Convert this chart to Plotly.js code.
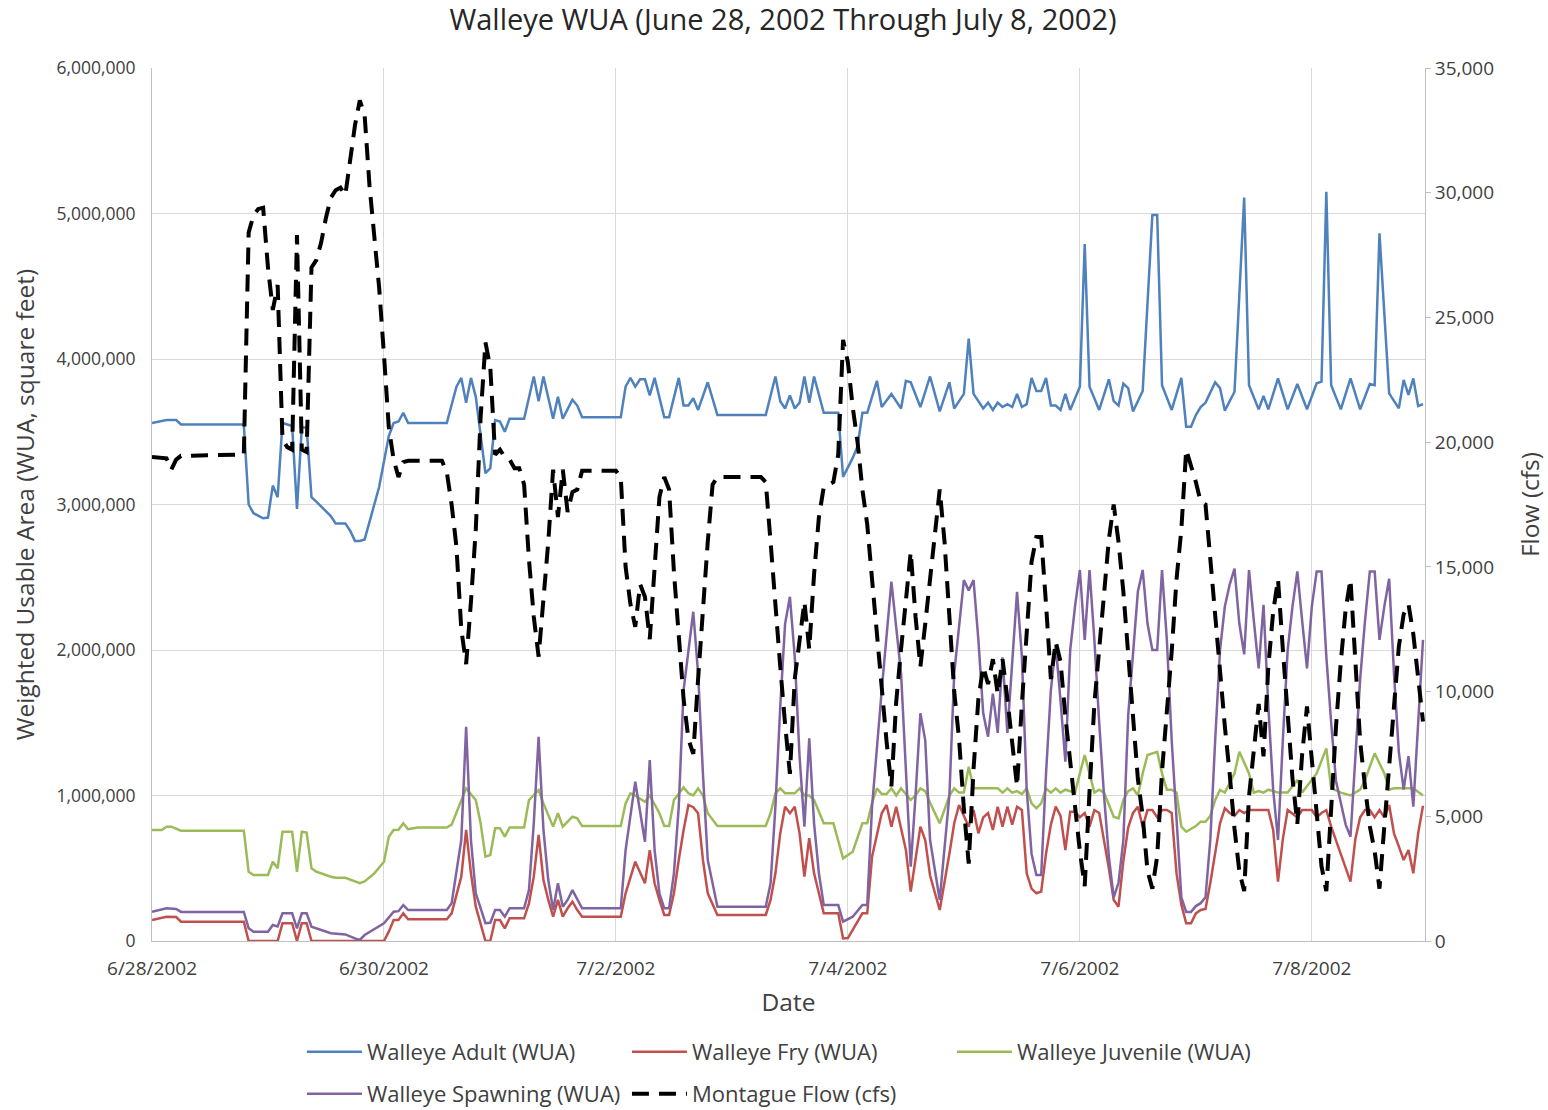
<!DOCTYPE html>
<html>
<head>
<meta charset="utf-8">
<script src="https://cdn.plot.ly/plotly-3.0.1.min.js"></script>
<style>
  html, body { margin: 0; padding: 0; background: #fff; }
  #chart { width: 1548px; height: 1110px; }
</style>
</head>
<body>
<div id="chart"></div>
<script>
// Hourly record, 6/28/2002 00:00 through 7/8/2002 23:00.
// Each series lists its vertices as hours from the start plus the value at that hour.

const adultHours = [0,3,5,6,19,20,21,23,24,25,26,27,29,30,31,32,33,34,37,38,40,41,42,43,44,47,49,50,51,52,53,61,63,64,65,66,67,69,70,71,72,73,74,77,79,80,81,83,84,85,87,88,89,97,98,99,100,101,102,103,104,106,107,109,110,111,112,113,115,117,127,129,130,131,132,133,134,135,136,137,139,142,143,145,146,147,148,150,151,153,155,156,157,159,161,163,165,166,168,169,170,172,173,174,175,176,177,178,179,180,181,182,183,184,185,186,187,188,189,190,192,193,194,196,198,199,200,201,202,203,205,207,208,209,211,213,214,215,216,217,218,220,221,222,224,226,227,229,230,231,233,235,237,239,241,242,243,244,246,248,250,252,253,254,256,258,259,260,261,262,263];
const adultWUA = [3560000,3580000,3580000,3550000,3550000,3000000,2940000,2905000,2910000,3130000,3050000,3560000,3540000,2970000,3530000,3530000,3050000,3020000,2920000,2870000,2870000,2820000,2750000,2750000,2760000,3120000,3470000,3560000,3570000,3630000,3560000,3560000,3810000,3870000,3700000,3870000,3740000,3215000,3250000,3580000,3570000,3500000,3590000,3590000,3880000,3710000,3880000,3590000,3740000,3590000,3720000,3680000,3600000,3600000,3810000,3870000,3810000,3860000,3860000,3750000,3870000,3600000,3600000,3870000,3680000,3680000,3730000,3650000,3840000,3615000,3615000,3880000,3710000,3660000,3750000,3660000,3700000,3880000,3700000,3880000,3630000,3630000,3190000,3320000,3400000,3630000,3630000,3850000,3670000,3760000,3660000,3850000,3840000,3670000,3880000,3640000,3840000,3660000,3760000,4140000,3760000,3660000,3700000,3650000,3700000,3670000,3690000,3670000,3760000,3670000,3690000,3870000,3780000,3780000,3870000,3680000,3680000,3650000,3760000,3650000,3810000,4790000,3810000,3650000,3860000,3710000,3680000,3830000,3800000,3640000,3780000,4990000,4990000,3820000,3650000,3870000,3535000,3535000,3615000,3670000,3700000,3840000,3800000,3645000,3775000,5110000,3820000,3654000,3746000,3654000,3867000,3654000,3828000,3654000,3833000,3844000,5150000,3820000,3654000,3867000,3654000,3828000,3820000,4864000,3764000,3661000,3856000,3753000,3867000,3677000,3690000];

const fryHours = [0,3,5,6,19,20,26,27,29,30,31,32,33,48,49,50,51,52,53,61,62,64,65,66,67,69,70,71,72,73,74,77,78,79,80,81,82,83,84,85,86,87,88,89,97,98,100,102,103,104,105,106,107,108,109,110,111,112,113,114,115,117,127,128,129,130,131,132,133,134,135,136,137,138,139,142,143,144,145,147,148,149,151,152,153,154,156,157,159,160,161,163,165,166,167,168,169,170,171,172,173,174,175,176,177,178,179,180,181,182,183,184,185,186,187,188,189,190,191,192,193,194,195,196,197,198,199,200,201,202,203,204,205,206,207,208,209,210,211,212,213,214,215,216,217,218,219,220,221,222,223,224,225,226,227,231,232,233,234,235,237,238,240,241,242,243,244,248,249,250,251,252,253,254,255,256,257,258,259,260,261,262,263];
const fryWUA = [144000,167000,165000,133000,133000,0,0,122000,122000,0,122000,122000,0,0,64000,144000,144000,190000,149000,149000,190000,442000,763000,465000,236000,0,0,144000,144000,87000,156000,156000,259000,442000,729000,419000,282000,167000,282000,167000,225000,270000,213000,167000,167000,328000,545000,397000,625000,397000,282000,179000,179000,328000,557000,763000,935000,920000,878000,557000,328000,179000,179000,282000,465000,740000,923000,878000,923000,740000,442000,706000,465000,328000,190000,190000,18000,20000,76000,190000,190000,580000,878000,935000,786000,923000,625000,339000,786000,694000,450000,213000,600000,809000,935000,860000,786000,900000,740000,850000,880000,763000,923000,786000,923000,800000,923000,900000,465000,360000,328000,340000,600000,800000,923000,860000,625000,889000,889000,850000,880000,786000,900000,880000,700000,500000,282000,236000,550000,780000,880000,923000,786000,900000,900000,850000,900000,900000,880000,465000,250000,122000,122000,190000,213000,220000,400000,620000,809000,912000,880000,860000,900000,880000,900000,900000,763000,408000,700000,900000,850000,900000,900000,850000,880000,900000,786000,408000,700000,850000,900000,900000,850000,900000,850000,935000,740000,650000,557000,625000,465000,740000,930000];

const juvenileHours = [0,2,3,4,6,19,20,21,24,25,26,27,29,30,31,32,33,34,37,38,40,42,43,44,46,48,49,50,51,52,53,55,61,62,64,65,67,68,69,70,71,72,73,74,77,78,80,81,83,84,85,87,88,89,97,98,99,100,102,103,105,106,107,108,110,111,112,113,114,115,117,127,128,129,130,131,133,134,135,136,137,139,141,142,143,145,147,148,149,150,151,152,153,154,155,157,158,159,160,161,163,165,166,167,168,169,170,175,176,177,178,179,180,181,182,183,184,185,186,187,188,189,190,191,192,193,194,195,196,197,199,200,201,202,203,204,205,206,208,209,210,211,212,213,214,216,217,218,219,220,221,222,224,225,227,228,229,230,231,233,235,237,238,240,241,243,244,246,248,250,251,253,255,256,257,258,260,261,263];
const juvenileWUA = [763000,763000,786000,786000,758000,758000,476000,454000,454000,545000,500000,751000,751000,476000,751000,745000,500000,476000,442000,435000,435000,408000,397000,410000,465000,545000,717000,763000,765000,809000,768000,780000,780000,800000,969000,1049000,969000,809000,580000,591000,775000,775000,717000,780000,780000,969000,1038000,946000,786000,878000,786000,854000,843000,790000,790000,946000,1015000,1000000,957000,1000000,878000,790000,790000,969000,1056000,1015000,1000000,1049000,1000000,878000,790000,790000,878000,1015000,1049000,1015000,1015000,1049000,1000000,1000000,969000,809000,809000,694000,568000,614000,809000,809000,950000,1049000,1010000,1010000,1049000,1000000,1049000,969000,1000000,1049000,1030000,950000,809000,1000000,1049000,1020000,1020000,1198000,1049000,1049000,1020000,1049000,1020000,1030000,1010000,1049000,946000,912000,946000,1049000,1020000,1049000,1020000,1040000,1030000,1020000,1152000,1278000,1152000,1020000,1040000,1020000,854000,843000,969000,1030000,1049000,1000000,1152000,1278000,1300000,1152000,1040000,1040000,1020000,786000,751000,790000,820000,820000,860000,969000,1038000,1020000,1152000,1300000,1152000,1020000,1030000,1020000,1040000,1020000,1020000,1107000,1020000,1107000,1152000,1324000,1050000,1020000,1000000,1040000,1107000,1290000,1152000,1040000,1050000,1050000,1050000,1050000,1000000];

const spawningHours = [0,3,5,6,19,20,21,24,25,26,27,29,30,31,32,33,37,40,42,43,44,48,50,51,52,53,61,62,64,65,66,67,69,70,71,72,73,74,77,78,79,80,81,82,83,84,85,86,87,88,89,97,98,100,101,102,103,104,105,106,107,108,109,110,112,113,114,115,117,127,128,129,130,131,132,133,134,135,136,137,138,139,142,143,145,147,148,149,151,153,155,156,157,158,159,160,161,163,165,166,168,169,170,171,172,173,174,175,176,177,179,180,181,182,183,184,185,186,187,188,189,190,191,192,193,194,195,196,197,198,199,200,201,202,203,204,205,206,207,208,209,210,211,212,213,214,215,216,217,218,219,220,221,222,223,224,225,226,227,228,229,230,231,232,233,234,235,236,237,238,239,240,241,242,243,244,245,246,247,248,249,250,251,252,253,254,255,256,257,258,259,260,261,262,263];
const spawningWUA = [200000,225000,220000,200000,200000,87000,64000,64000,110000,100000,190000,190000,87000,190000,190000,98000,53000,45000,18000,7000,41000,122000,201000,205000,247000,213000,213000,259000,694000,1473000,694000,328000,122000,125000,213000,213000,167000,225000,225000,350000,809000,1404000,763000,419000,213000,397000,236000,282000,350000,282000,225000,225000,625000,1095000,878000,682000,1244000,625000,328000,225000,225000,465000,923000,1725000,2263000,1840000,1152000,557000,236000,236000,397000,923000,1610000,2180000,2366000,1954000,1267000,786000,1393000,809000,465000,247000,247000,133000,167000,247000,247000,923000,1725000,2470000,1840000,1152000,511000,1000000,1565000,1381000,694000,282000,1000000,1840000,2480000,2410000,2480000,2069000,1565000,1404000,1700000,1430000,1950000,1430000,2400000,1954000,1040000,600000,454000,454000,1152000,1725000,2034000,1650000,1232000,2000000,2300000,2550000,2070000,2550000,2070000,1500000,1000000,580000,300000,400000,694000,1550000,2000000,2400000,2550000,2180000,2000000,2000000,2550000,2070000,1380000,800000,300000,200000,200000,240000,260000,300000,700000,1380000,2000000,2300000,2450000,2560000,2180000,1970000,2550000,2200000,1874000,2310000,1610000,1040000,694000,1381000,2000000,2300000,2540000,2200000,1874000,2300000,2540000,2540000,1954000,1500000,1100000,950000,800000,717000,1300000,1800000,2200000,2540000,2540000,2070000,2300000,2490000,1840000,1300000,1040000,1270000,923000,1500000,2070000];

const flowHours = [0,3,4,5,6,19,20,21,22,23,24,25,26,27,28,29,30,31,32,33,34,35,36,37,38,39,40,41,42,43,44,45,46,47,48,49,50,51,52,53,60,61,62,63,64,65,66,67,68,69,70,71,72,73,74,75,76,77,78,79,80,81,82,83,84,85,86,87,88,89,96,97,98,99,100,101,102,103,104,105,106,107,108,109,110,111,112,113,114,115,116,117,126,127,128,129,130,131,132,133,134,135,136,137,138,139,141,142,143,144,145,146,147,148,149,150,151,152,153,154,155,156,157,158,159,160,161,162,163,164,165,166,167,168,169,170,171,172,173,174,175,176,177,178,179,180,181,182,183,184,185,186,187,188,189,190,191,192,193,194,195,196,197,198,199,200,201,202,203,204,205,206,207,208,209,210,211,212,213,214,215,216,217,218,219,220,221,222,223,224,225,226,227,228,229,230,231,232,233,234,235,236,237,238,239,240,241,242,243,244,245,246,247,248,249,250,251,252,253,254,255,256,257,258,259,260,261,262,263];
const flowCfs = [19400,19350,18900,19300,19450,19500,28400,29100,29350,29400,27000,25300,26300,20100,19800,19700,28300,19700,19600,27000,27300,28000,29000,29800,30100,30200,29900,31400,32700,33700,33100,30300,28200,26200,23500,20600,19300,18600,19200,19250,19250,18800,17500,15800,12500,11100,13600,16500,21000,24000,23000,19500,19700,19400,19300,18950,18950,18300,15300,13000,11400,13500,16000,18900,17000,18900,17200,18000,18100,18850,18850,18600,15000,13500,12600,14300,13800,12100,15000,17800,18600,18100,14800,12300,9700,8100,7500,10500,13400,16000,18300,18600,18600,18400,16000,13300,11000,8700,6700,10500,12100,13600,11700,14700,17000,18200,18400,19500,24100,23200,21400,20000,18100,16700,14500,12300,10100,8000,6200,9600,11700,13700,15600,13000,11000,12700,14500,16200,18100,16000,12700,10000,8100,5300,3100,6900,9700,11000,10300,11300,9900,11300,9700,8000,6200,9500,12500,15200,16200,16200,13500,10500,12000,11200,9000,7000,5400,3600,2200,6000,9500,11700,14000,16100,17500,16000,14000,11500,8500,6500,5000,2800,2100,3400,6800,9100,11600,14500,16500,19700,19100,18400,17600,17500,15300,13000,11000,8600,6700,4500,2800,2000,5800,7800,9500,7400,11000,13200,14500,11700,8800,6500,4700,7500,9400,7300,5000,3000,2000,5600,8600,11200,13300,14500,11000,8000,6200,4600,3600,2100,4600,7000,9600,11800,13100,13500,12300,10700,8800];

const dateTicks = ['2002-06-28', '2002-06-30', '2002-07-02', '2002-07-04', '2002-07-06', '2002-07-08'];
const dateTickLabels = ['6/28/2002', '6/30/2002', '7/2/2002', '7/4/2002', '7/6/2002', '7/8/2002'];

const START_MS = Date.UTC(2002, 5, 28, 0, 0);
function hourToDate(h) {
  return new Date(START_MS + h * 3600000).toISOString().slice(0, 16).replace('T', ' ');
}

const FONT = 'Open Sans, "Noto Sans", sans-serif';
const TEXT = '#404040';

function wuaTrace(name, hours, values, color, legend) {
  return {
    type: 'scatter', mode: 'lines', name: name,
    x: hours.map(hourToDate), y: values,
    line: {color: color, width: 2.5},
    legend: legend
  };
}

const traces = [
  wuaTrace('Walleye Adult (WUA)', adultHours, adultWUA, '#4F81BD', 'legend'),
  wuaTrace('Walleye Fry (WUA)', fryHours, fryWUA, '#C0504D', 'legend'),
  wuaTrace('Walleye Juvenile (WUA)', juvenileHours, juvenileWUA, '#9BBB59', 'legend'),
  wuaTrace('Walleye Spawning (WUA)', spawningHours, spawningWUA, '#8064A2', 'legend2'),
  {
    type: 'scatter', mode: 'lines', name: 'Montague Flow (cfs)',
    x: flowHours.map(hourToDate), y: flowCfs, yaxis: 'y2',
    line: {color: '#000000', width: 4, dash: '17px,10px'},
    legend: 'legend2'
  }
];

const legendCommon = {
  orientation: 'h', xanchor: 'left', yanchor: 'middle',
  itemwidth: 55, entrywidth: 255, entrywidthmode: 'pixels',
  font: {family: FONT, size: 22, color: TEXT},
  bgcolor: 'rgba(0,0,0,0)', borderwidth: 0, traceorder: 'normal'
};

const layout = {
  width: 1548, height: 1110,
  margin: {l: 152, r: 123, t: 68, b: 169, autoexpand: false},
  paper_bgcolor: '#ffffff', plot_bgcolor: '#ffffff',
  font: {family: FONT, size: 16, color: TEXT},
  title: {
    text: 'Walleye WUA (June 28, 2002 Through July 8, 2002)',
    x: 0.5058, xanchor: 'center', y: 0.982, yanchor: 'middle',
    font: {family: FONT, size: 29, color: '#262626'}
  },
  xaxis: {
    type: 'date',
    range: ['2002-06-28 00:00', '2002-07-08 23:25'],
    tickmode: 'array', tickvals: dateTicks, ticktext: dateTickLabels,
    showgrid: true, gridcolor: '#d9d9d9', gridwidth: 1,
    showline: true, linecolor: '#bfbfbf', linewidth: 1,
    ticks: '', ticklabelstandoff: 10,
    tickfont: {size: 19, color: TEXT},
    title: {text: 'Date', standoff: 14, font: {size: 24.5, color: TEXT}},
    zeroline: false
  },
  yaxis: {
    range: [0, 6000000], dtick: 1000000, tickformat: ',d',
    showgrid: true, gridcolor: '#d9d9d9', gridwidth: 1,
    showline: true, linecolor: '#bfbfbf', linewidth: 1,
    ticks: '', ticklabelstandoff: 12,
    tickfont: {size: 17.5, color: TEXT},
    title: {text: 'Weighted Usable Area (WUA, square feet)', standoff: 14, font: {size: 24.5, color: TEXT}},
    zeroline: false
  },
  yaxis2: {
    overlaying: 'y', side: 'right',
    range: [0, 35000], dtick: 5000, tickformat: ',d',
    showgrid: false, zeroline: false,
    showline: true, linecolor: '#bfbfbf', linewidth: 1,
    ticks: 'outside', ticklen: 5, tickcolor: '#bfbfbf',
    tickfont: {size: 19, color: TEXT},
    title: {text: 'Flow (cfs)', standoff: 28, font: {size: 24.5, color: TEXT}}
  },
  legend: Object.assign({}, legendCommon, {x: 0.1178, y: -0.1271}),
  legend2: Object.assign({}, legendCommon, {x: 0.1178, y: -0.1753}),
  showlegend: true
};

Plotly.newPlot('chart', traces, layout, {staticPlot: true, displayModeBar: false});
</script>
</body>
</html>
